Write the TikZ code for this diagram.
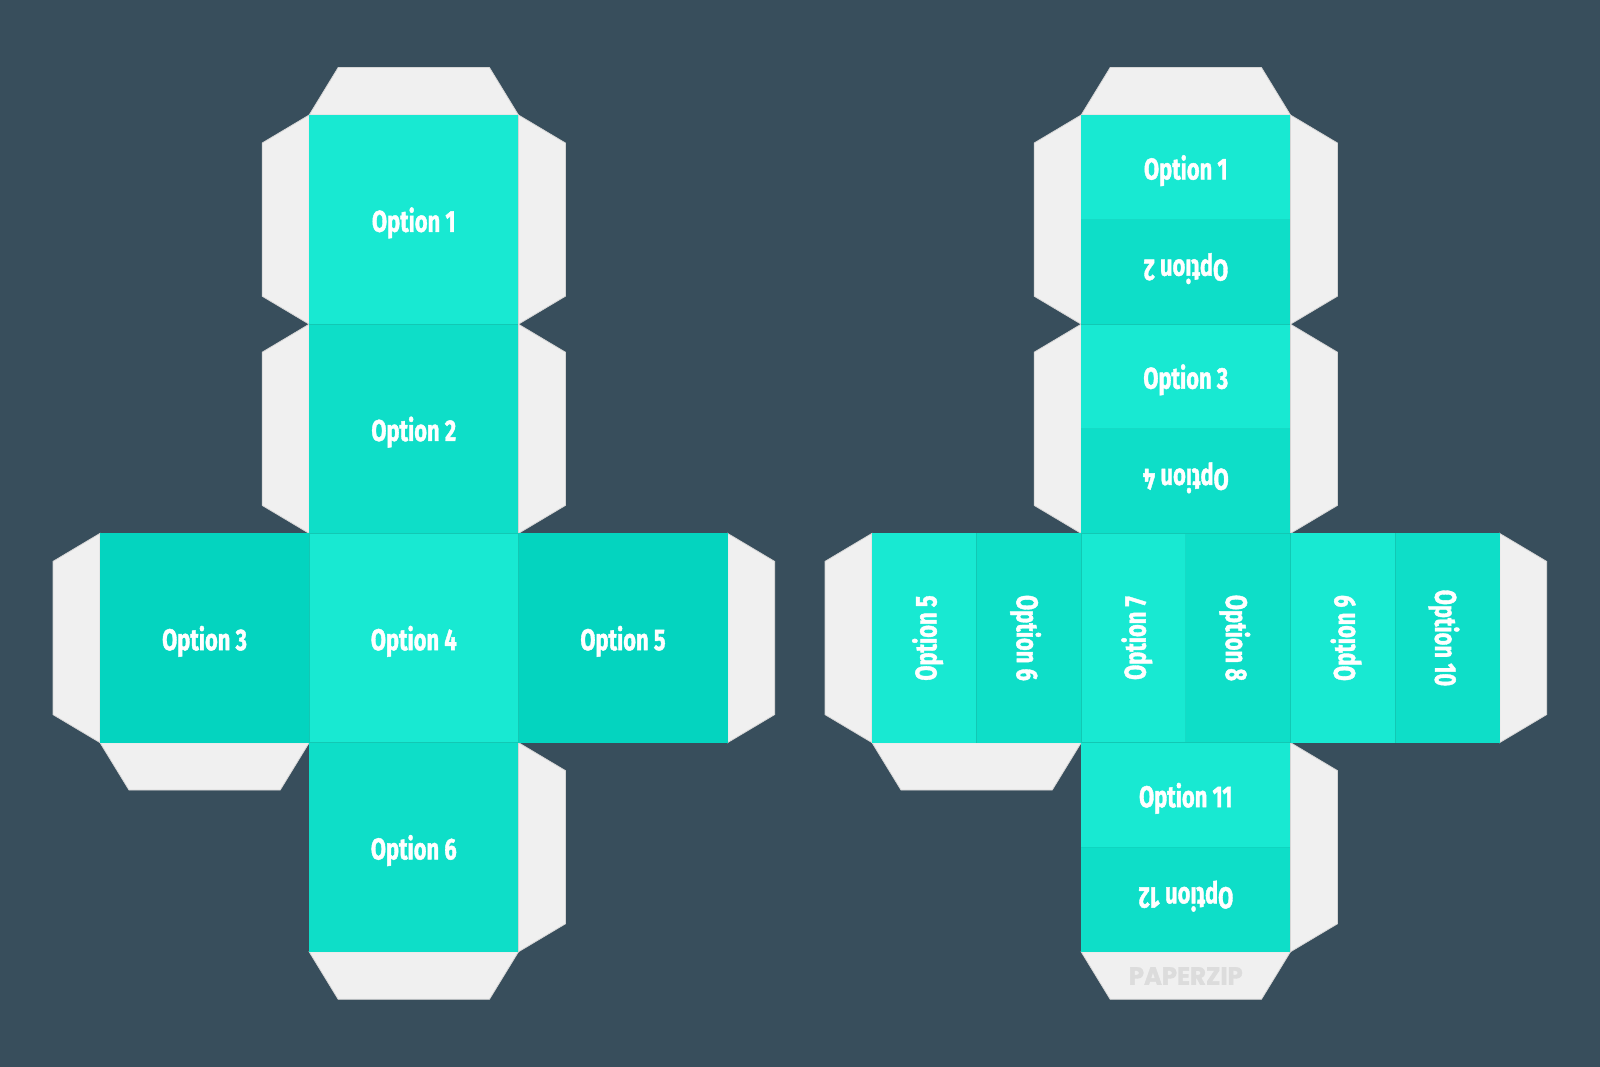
\documentclass[tikz,border=0pt]{standalone}
\usepackage{fontspec}
\setmainfont{Fira Sans}
\newfontfamily\lblfont{Fira Sans}[BoldFeatures={FakeBold=1.6}]
\newfontfamily\wmfont{Poppins}[BoldFeatures={FakeBold=1.5}]
\usepackage{graphicx}
\definecolor{bg}{HTML}{384E5C}
\definecolor{tl}{HTML}{18E9D2}
\definecolor{tm}{HTML}{0EDEC8}
\definecolor{td}{HTML}{04D4BF}
\definecolor{tabc}{HTML}{F0F0F0}
\definecolor{tabe}{HTML}{D6D6D6}
\definecolor{sepc}{HTML}{12C8B4}
\definecolor{wm}{HTML}{DCDCDC}
\newcommand\sx[1]{\scalebox{0.73}[1]{#1}}
\tikzset{
  lbl/.style={text=white, inner sep=0pt, text depth=0pt, font=\lblfont\fontsize{30}{30}\selectfont\bfseries},
  flap/.style={fill=tabc, draw=tabe, line width=0.8pt, line join=miter},
  sepline/.style={draw=sepc, line width=0.9pt}
}
% tabs of one net (coordinates of the left net)
\newcommand\flaps{%
  \path[flap] (309.2,115)--(338.2,67.5)--(489.4,67.5)--(518.4,115)--cycle;
  \path[flap] (309.2,115)--(262.2,143)--(262.2,296.2)--(309.2,324.2)--cycle;
  \path[flap] (518.4,115)--(565.4,143)--(565.4,296.2)--(518.4,324.2)--cycle;
  \path[flap] (309.2,324.2)--(262.2,352.2)--(262.2,505.4)--(309.2,533.4)--cycle;
  \path[flap] (518.4,324.2)--(565.4,352.2)--(565.4,505.4)--(518.4,533.4)--cycle;
  \path[flap] (100,533.4)--(53,561.4)--(53,714.6)--(100,742.6)--cycle;
  \path[flap] (727.6,533.4)--(774.6,561.4)--(774.6,714.6)--(727.6,742.6)--cycle;
  \path[flap] (100,742.6)--(129,790)--(280.2,790)--(309.2,742.6)--cycle;
  \path[flap] (518.4,742.6)--(565.4,770.6)--(565.4,923.8)--(518.4,951.8)--cycle;
  \path[flap] (309.2,951.8)--(338.2,999.3)--(489.4,999.3)--(518.4,951.8)--cycle;
}
\begin{document}
\begin{tikzpicture}[x=1pt,y=-1pt]
\fill[bg] (0,0) rectangle (1600,1067);
\useasboundingbox (0,0) rectangle (1600,1067);

% ================= LEFT NET =================
\flaps
\fill[tl] (309.2,115) rectangle (518.4,324.2);
\fill[tm] (309.2,324.2) rectangle (518.4,533.4);
\fill[td] (100,533.4) rectangle (309.2,742.6);
\fill[tl] (309.2,533.4) rectangle (518.4,742.6);
\fill[td] (518.4,533.4) rectangle (727.6,742.6);
\fill[tm] (309.2,742.6) rectangle (518.4,951.8);
\draw[sepline] (309.2,324.2) -- (518.4,324.2);
\draw[sepline] (309.2,533.4) -- (518.4,533.4);
\draw[sepline] (309.2,742.6) -- (518.4,742.6);
\draw[sepline] (309.2,533.4) -- (309.2,742.6);
\draw[sepline] (518.4,533.4) -- (518.4,742.6);

\node[lbl] (l1) at (413.8,219.6) {\sx{Option 1}};
\node[lbl] (l2) at (413.8,428.8) {\sx{Option 2}};
\node[lbl] (l3) at (204.6,638) {\sx{Option 3}};
\node[lbl] (l4) at (413.8,638) {\sx{Option 4}};
\node[lbl] (l5) at (623,638) {\sx{Option 5}};
\node[lbl] (l6) at (413.8,847.2) {\sx{Option 6}};

% ================= RIGHT NET =================
\begin{scope}[xshift=772pt]
\flaps
\fill[tl] (309.2,115) rectangle (518.4,219.6);
\fill[tm] (309.2,219.6) rectangle (518.4,324.2);
\fill[tl] (309.2,324.2) rectangle (518.4,428.8);
\fill[tm] (309.2,428.8) rectangle (518.4,533.4);
\fill[tl] (100,533.4) rectangle (204.6,742.6);
\fill[tm] (204.6,533.4) rectangle (309.2,742.6);
\fill[tl] (309.2,533.4) rectangle (413.8,742.6);
\fill[tm] (413.8,533.4) rectangle (518.4,742.6);
\fill[tl] (518.4,533.4) rectangle (623,742.6);
\fill[tm] (623,533.4) rectangle (727.6,742.6);
\fill[tl] (309.2,742.6) rectangle (518.4,847.2);
\fill[tm] (309.2,847.2) rectangle (518.4,951.8);
\draw[sepline] (309.2,324.2) -- (518.4,324.2);
\draw[sepline] (309.2,533.4) -- (518.4,533.4);
\draw[sepline] (309.2,742.6) -- (518.4,742.6);
\draw[sepline] (309.2,533.4) -- (309.2,742.6);
\draw[sepline] (518.4,533.4) -- (518.4,742.6);
\draw[sepline] (204.6,533.4) -- (204.6,742.6);
\draw[sepline] (623,533.4) -- (623,742.6);
\draw[sepline, draw opacity=0.4] (309.2,219.6) -- (518.4,219.6);
\draw[sepline, draw opacity=0.4] (309.2,428.8) -- (518.4,428.8);
\draw[sepline, draw opacity=0.4] (309.2,847.2) -- (518.4,847.2);
\draw[sepline, draw opacity=0.4] (413.8,533.4) -- (413.8,742.6);

\node[lbl] (r1) at (413.8,167.3) {\sx{Option 1}};
\node[lbl, rotate=180] (r2) at (413.8,271.9) {\sx{Option 2}};
\node[lbl] (r3) at (413.8,376.5) {\sx{Option 3}};
\node[lbl, rotate=180] (r4) at (413.8,481.1) {\sx{Option 4}};
\node[lbl, rotate=90] (r5) at (152.3,638) {\sx{Option 5}};
\node[lbl, rotate=-90] (r6) at (256.9,638) {\sx{Option 6}};
\node[lbl, rotate=90] (r7) at (361.5,638) {\sx{Option 7}};
\node[lbl, rotate=-90] (r8) at (466.1,638) {\sx{Option 8}};
\node[lbl, rotate=90] (r9) at (570.7,638) {\sx{Option 9}};
\node[lbl, rotate=-90] (r10) at (675.3,638) {\sx{Option 10}};
\node[lbl] (r11) at (413.8,795) {\sx{Option 11}};
\node[lbl, rotate=180] (r12) at (413.8,899.5) {\sx{Option 12}};
\node[text=wm, inner sep=0pt, text depth=0pt, font=\wmfont\fontsize{25}{25}\selectfont\bfseries] (wmk) at (413.8,976) {\scalebox{0.97}[1]{PAPERZIP}};
\end{scope}
\end{tikzpicture}
\end{document}
